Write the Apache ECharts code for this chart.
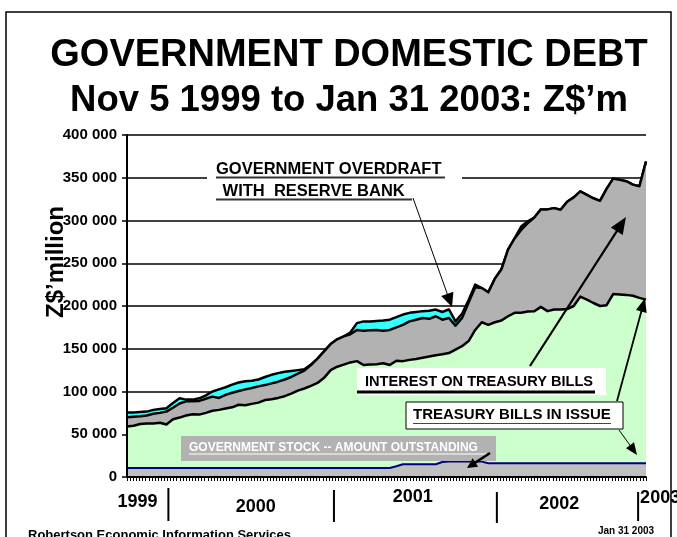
<!DOCTYPE html>
<html>
<head>
<meta charset="utf-8">
<script src="https://cdn.jsdelivr.net/npm/echarts@6/dist/echarts.min.js"></script>
<style>
html,body{margin:0;padding:0;background:#fff;}
#c{width:677px;height:537px;}
</style>
</head>
<body>
<div id="c"></div>
<script>
// ---- DATA (Z$ million, weekly-ish observations Nov 5 1999 .. Jan 31 2003) ----
const govStock = [
 10500,10500,10500,10500,10500,10500,10500,10500,10500,10500,
 10500,10500,10500,10500,10500,10500,10500,10500,10500,10500,
 10500,10500,10500,10500,10500,10500,10500,10500,10500,10500,
 10500,10500,10500,10500,10500,10500,10500,10500,10500,10500,
 10500,12500,15000,15000,15000,15000,15000,15000,17500,18000,
 18000,18000,18000,18000,18000,16000,16000,16000,16000,16000,
 16000,16000,16000,16000,16000,16000,16000,16000,16000,16000,
 16000,16000,16000,16000,16000,16000,16000,16000,16000,16000];
const tBills = [
 48500,49500,51500,52000,52000,53000,51000,57000,59000,61500,
 63000,62500,64500,67000,68000,69500,71000,74000,73500,75000,
 76500,79500,80500,82000,84000,87000,90500,93000,96000,99500,
 105500,114500,118500,121000,123500,125000,120500,121000,121500,122500,
 120500,123500,120500,122000,123000,124500,126000,127500,126000,127000,
 131000,135000,141000,154000,163000,162000,165000,167000,172000,176000,
 176000,177500,177800,183000,178000,179800,180000,180500,184000,195000,
 191500,187500,184000,185000,198000,197500,197000,196000,193500,191500];
const interest = [
 11000,10500,9000,9500,11500,11500,15000,13500,16500,16500,
 15000,16000,16500,16500,14000,16000,17000,16000,18500,18500,
 19000,17500,18500,19000,19500,19500,20000,21000,24500,28500,
 31000,30500,32000,33000,33000,36500,40000,40000,40000,38000,
 41000,39000,42500,45000,46000,46500,44000,45500,40500,41000,
 28000,33000,45000,50000,40000,38000,51000,60000,78000,87000,
 97000,103500,109700,114000,119000,118700,116500,125500,127000,123000,
 122500,122500,123000,136000,135000,134000,133000,130000,130500,161500];
const overdraft = [
 5500,5000,5000,4500,4500,4500,4000,5500,6000,2000,
 2000,3000,4000,6000,10000,9000,9500,10000,9500,8500,
 8000,9500,10000,10000,9000,7000,4000,1500,500,0,
 0,0,0,0,2000,8000,11000,10500,10500,12000,
 12000,12000,12000,10000,9000,8000,9500,7800,9000,10000,
 5000,5000,3000,3000,0,0,0,0,0,0,
 4000,2000,0,0,0,0,0,0,0,0,
 0,0,0,0,0,0,0,0,0,0];
const categories = govStock.map((_, i) => 'obs ' + (i + 1));
const yearLabels = ['1999', '2000', '2001', '2002', '2003'];
const yearLabelPos = [1.6, 19.6, 43.5, 65.8, 78.3];   // category position of each year label
const yearBreakPos = [6.3, 31.5, 56.3, 77.8];         // category position where a new year starts
const yMin = 0, yMax = 400000, yStep = 50000;

// ---- CHART ----
const FONT = '"Liberation Sans", Arial, sans-serif';
const chart = echarts.init(document.getElementById('c'), null, {renderer: 'canvas'});

function fmt(v) { return v === 0 ? '0' : (v / 1000) + ' 000'; }

const baseSeries = (name, data, fill, line, lw, z) => ({
  name, type: 'line', stack: 'debt', data, symbol: 'none', showSymbol: false,
  smooth: false, sampling: null,
  lineStyle: {color: line, width: lw, join: 'round'},
  areaStyle: {color: fill, opacity: 1},
  z
});

chart.setOption({
  animation: false,
  backgroundColor: '#ffffff',
  grid: {left: 127, right: 31, top: 135, bottom: 60},
  xAxis: [
    {type: 'category', data: categories, boundaryGap: false,
     axisLine: {show: true, lineStyle: {color: '#000', width: 2}},
     axisTick: {show: false}, axisLabel: {show: false}, splitLine: {show: false}, z: 10},
    {type: 'value', min: 0, max: 167, interval: 1, position: 'bottom',
     axisLine: {show: false}, axisTick: {show: true, length: 4, lineStyle: {color: '#000', width: 1}},
     axisLabel: {show: false}, splitLine: {show: false}, z: 10}
  ],
  yAxis: [
    {type: 'value', min: yMin, max: yMax, interval: yStep,
     axisLine: {show: false}, axisTick: {show: false},
     axisLabel: {formatter: fmt, fontFamily: FONT, fontWeight: 'bold', fontSize: 15, color: '#000', margin: 10},
     splitLine: {show: true, lineStyle: {color: '#000', width: 1.6}}, z: 0},
    {type: 'value', min: yMin, max: yMax, interval: yStep, position: 'left',
     axisLine: {show: true, lineStyle: {color: '#000', width: 2}},
     axisTick: {show: true, length: 5, lineStyle: {color: '#000', width: 1.5}},
     axisLabel: {show: false}, splitLine: {show: false}, z: 10}
  ],
  series: [
    baseSeries('Government stock', govStock, '#c0c0c0', '#000080', 2, 6),
    baseSeries('Treasury bills in issue', tBills, '#ccffcc', '#000000', 2.5, 5),
    baseSeries('Interest on treasury bills', interest, '#b2b2b2', '#000000', 2.5, 4),
    baseSeries('Government overdraft with Reserve Bank', overdraft, '#33ffff', '#000000', 2.5, 3)
  ]
});

// ---- ANNOTATIONS ----
const x0 = chart.convertToPixel({xAxisIndex: 0}, 0);
const x1 = chart.convertToPixel({xAxisIndex: 0}, 1);
const step = x1 - x0;
const px = f => x0 + step * f;

function txt(text, x, y, size, opts) {
  opts = opts || {};
  return {type: 'text', x, y, z: opts.z || 100, rotation: opts.rotation || 0,
    style: {text, font: 'bold ' + size + 'px ' + FONT, fill: opts.fill || '#000',
      textAlign: opts.align || 'left', textVerticalAlign: opts.valign || 'middle'}};
}
function ln(xa, ya, xb, yb, w, c) {
  return {type: 'line', z: 100, shape: {x1: xa, y1: ya, x2: xb, y2: yb}, style: {stroke: c || '#000', lineWidth: w}};
}
function rect(x, y, w, h, fill, stroke, lw) {
  return {type: 'rect', z: 99, shape: {x, y, width: w, height: h},
    style: {fill: fill, stroke: stroke || null, lineWidth: lw || 0}};
}
function arrow(xa, ya, xb, yb, w, hl, hw) {
  const dx = xb - xa, dy = yb - ya, L = Math.hypot(dx, dy), ux = dx / L, uy = dy / L;
  const bx = xb - ux * hl, by = yb - uy * hl, nx = -uy, ny = ux;
  return [ln(xa, ya, bx + ux * 1, by + uy * 1, w),
    {type: 'polygon', z: 101, shape: {points: [[xb, yb], [bx + nx * hw / 2, by + ny * hw / 2], [bx - nx * hw / 2, by - ny * hw / 2]]},
     style: {fill: '#000'}}];
}

const yearY = [502, 507, 497, 504, 498];
const g = [];
// frame
g.push({type: 'rect', z: 1, shape: {x: 6, y: 12, width: 665, height: 545}, style: {fill: 'none', stroke: '#000', lineWidth: 1.5}});
// titles
g.push(txt('GOVERNMENT DOMESTIC DEBT', 349, 56, 38, {align: 'center'}));
g.push(txt('Nov 5 1999 to Jan 31 2003: Z$\u2019m', 349, 101, 36.5, {align: 'center'}));
// y axis title
g.push(txt('Z$\u2019million', 56, 262, 24, {align: 'center', rotation: Math.PI / 2}));
// year labels & dividers
yearLabels.forEach((lab, i) => {
  const isLast = i === yearLabels.length - 1;
  g.push(txt(lab, isLast ? px(yearBreakPos[3]) + 2 : px(yearLabelPos[i]), yearY[i], 18, {align: isLast ? 'left' : 'center'}));
});
const divY = [[488, 521], [490, 522], [492, 523], [492, 521]];
yearBreakPos.forEach((p, i) => g.push(ln(px(p), divY[i][0], px(p), divY[i][1], 2)));
// footer
g.push(txt('Robertson Economic Information Services', 28, 542, 13, {valign: 'bottom'}));
g.push(txt('Jan 31 2003', 626, 531, 10, {align: 'center'}));

// overdraft label
g.push(rect(207, 154, 255, 48, '#fff'));
g.push(txt('GOVERNMENT OVERDRAFT', 216, 169, 16.5));
g.push(ln(216, 177.5, 445, 177.5, 2, '#333'));
g.push(txt(' WITH  RESERVE BANK', 218, 191.5, 16.5));
g.push(ln(216, 199.5, 412, 199.5, 2, '#333'));
g.push(...arrow(413, 198, 452, 307, 1, 14, 13));

// interest label
g.push(rect(357, 368, 249, 27, '#fff'));
g.push(txt('INTEREST ON TREASURY BILLS', 365, 382, 14.6));
g.push(ln(357, 392, 595, 392, 3));
g.push(...arrow(530, 366, 626, 217, 2.2, 17, 14));

// treasury bills label
g.push(rect(406, 402, 217, 27, '#fff', '#000', 1));
g.push(txt('TREASURY BILLS IN ISSUE', 413, 415, 15));
g.push(ln(413, 423.5, 611, 423.5, 1.2, '#444'));
g.push(...arrow(617, 401, 645, 298, 1.8, 14, 11));
g.push(...arrow(619, 430, 637, 455, 1, 12, 10));

// government stock label
g.push(rect(181, 436, 315, 25, '#b2b2b2'));
g.push(txt('GOVERNMENT STOCK -- AMOUNT OUTSTANDING', 189, 447.5, 12, {fill: '#fff'}));
g.push(ln(189, 454, 487, 454, 1, '#fff'));
g.push(...arrow(490, 453, 467, 468, 2.5, 10, 10));

chart.setOption({graphic: g});
</script>
</body>
</html>
